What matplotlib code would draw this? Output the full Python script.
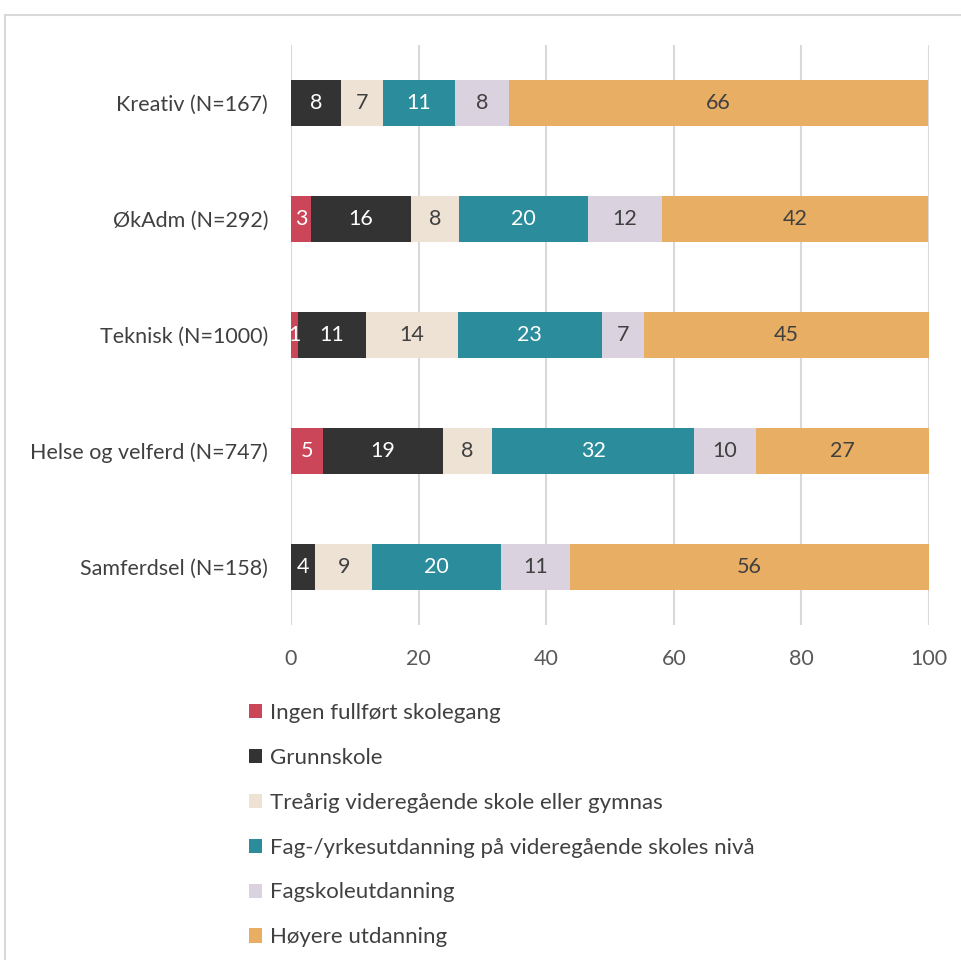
import matplotlib
matplotlib.use("Agg")
import matplotlib.pyplot as plt
from matplotlib.lines import Line2D

plt.rcParams['font.family'] = ['Lato', 'DejaVu Sans']

categories = ["Kreativ (N=167)", "ØkAdm (N=292)", "Teknisk (N=1000)",
              "Helse og velferd (N=747)", "Samferdsel (N=158)"]
series_names = ["Ingen fullført skolegang", "Grunnskole",
                "Treårig videregående skole eller gymnas",
                "Fag-/yrkesutdanning på videregående skoles nivå",
                "Fagskoleutdanning", "Høyere utdanning"]
ingen = [0.0, 3.1, 1.1, 5.0, 0.0]
grunnskole = [7.8, 15.7, 10.6, 18.8, 3.8]
trearig = [6.6, 7.5, 14.4, 7.7, 8.9]
fagyrke = [11.3, 20.2, 22.6, 31.7, 20.2]
fagskole = [8.4, 11.6, 6.6, 9.7, 10.8]
hoyere = [65.8, 41.8, 44.7, 27.1, 56.3]
series = [ingen, grunnskole, trearig, fagyrke, fagskole, hoyere]
xticks = [0, 20, 40, 60, 80, 100]

colors = ["#CB4659", "#333333", "#EDE2D4", "#2B8C9C", "#DAD3DF", "#E8AE63"]
label_colors = ["white", "white", "#404040", "white", "#404040", "#404040"]

fig = plt.figure(figsize=(9.62, 9.60), dpi=100)
ax = fig.add_axes([291/962, 1-625/960, (929-291)/962, 580/960])

ypos = list(range(len(categories)))
left = [0.0]*len(categories)
for vals, col, lc, name in zip(series, colors, label_colors, series_names):
    bars = ax.barh(ypos, vals, left=left, height=0.4, color=col, label=name, zorder=3)
    for b, v in zip(bars, vals):
        if v > 0:
            ax.text(b.get_x()+b.get_width()/2, b.get_y()+b.get_height()/2,
                    f"{int(round(v))}", ha="center", va="center",
                    color=lc, fontsize=15.5, zorder=4)
    left = [l+v for l, v in zip(left, vals)]

ax.set_ylim(len(categories)-0.5, -0.5)
ax.set_xlim(0, 100)
ax.set_yticks(ypos)
ax.set_yticklabels(categories, fontsize=15.5, color="#404040")
ax.set_xticks(xticks)
ax.set_xticklabels([str(t) for t in xticks], fontsize=15.5, color="#595959")
ax.tick_params(length=0)
ax.tick_params(axis='x', pad=17)
ax.tick_params(axis='y', pad=16.5)
ax.xaxis.grid(True, color="#D9D9D9", linewidth=1.5, zorder=0)
for s in ax.spines.values():
    s.set_visible(False)

handles, labels = ax.get_legend_handles_labels()
leg = fig.legend(handles, labels, loc="upper left",
                 bbox_to_anchor=(240/962, 1-694/960), frameon=False,
                 fontsize=16, labelcolor="#404040", handlelength=0.6,
                 handleheight=0.6, handletextpad=0.35, labelspacing=1.12,
                 borderaxespad=0)

# chart border (top and left visible)
fig.add_artist(Line2D([5/962, 5/962], [0, 1-15/960], color="#D9D9D9", linewidth=1.5))
fig.add_artist(Line2D([5/962, 1], [1-15/960, 1-15/960], color="#D9D9D9", linewidth=1.5))

fig.savefig("out.png", dpi=100, facecolor="white")
